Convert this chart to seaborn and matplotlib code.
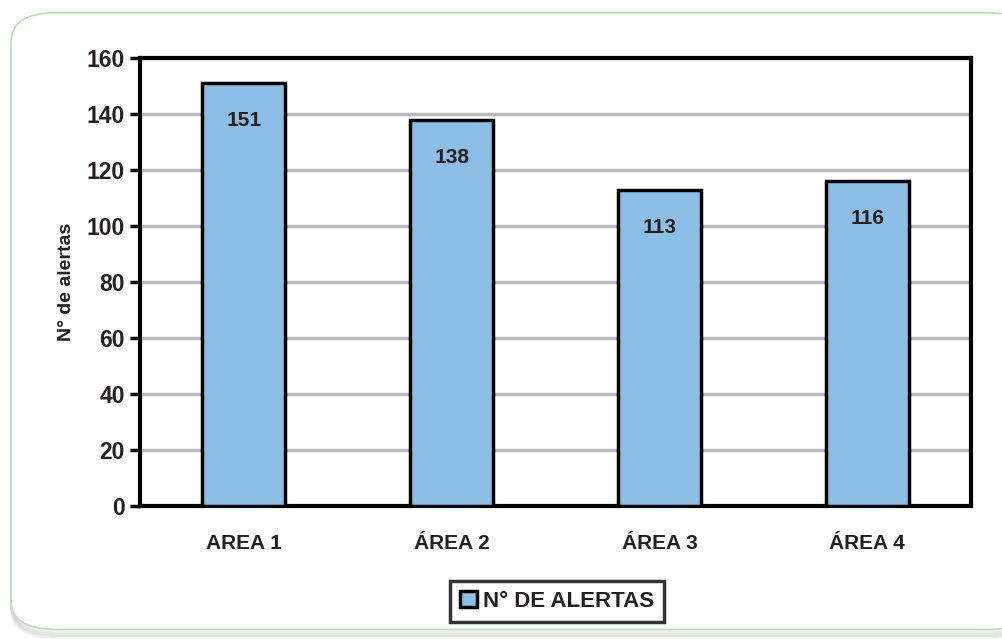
import matplotlib
matplotlib.use("Agg")
import matplotlib.pyplot as plt
from matplotlib.patches import FancyBboxPatch, Patch
import seaborn as sns
import pandas as pd

# Alert counts per area
areas = ["AREA 1", "ÁREA 2", "ÁREA 3", "ÁREA 4"]
alerts = [151, 138, 113, 116]
y_ticks = [0, 20, 40, 60, 80, 100, 120, 140, 160]
series_name = "N° DE ALERTAS"
y_title = "N° de alertas"

sns.set_theme(style="white")
plt.rcParams["font.family"] = ["Liberation Sans", "DejaVu Sans"]

TEXT = "#231f20"
BAR = "#8dbfe6"

fig = plt.figure(figsize=(10.03, 6.39), dpi=100)

# Rounded panel behind the chart, with a soft bottom shadow
for k, a in enumerate([0.05, 0.06, 0.07, 0.08]):
    fig.patches.append(FancyBboxPatch(
        (0.012, 0.012 - 0.003 * k), 1.02, 0.955,
        boxstyle="round,pad=0,rounding_size=0.045",
        transform=fig.transFigure, facecolor="none",
        edgecolor=(0.3, 0.3, 0.3, a), linewidth=3, zorder=0))
fig.patches.append(FancyBboxPatch(
    (0.011, 0.015), 1.02, 0.965,
    boxstyle="round,pad=0,rounding_size=0.045",
    transform=fig.transFigure, facecolor="white",
    edgecolor="#b9dfb4", linewidth=1.2, zorder=1))

ax = fig.add_axes([0.1396, 0.2081, 0.8285, 0.7011])
ax.set_zorder(2)

df = pd.DataFrame({"area": areas, "alerts": alerts})
sns.barplot(data=df, x="area", y="alerts", color=BAR, width=0.4,
            edgecolor="black", linewidth=2.5, saturation=1, ax=ax, zorder=3)

ax.set_ylim(0, 160)
ax.set_xlim(-0.5, len(areas) - 0.5)
ax.set_yticks(y_ticks)
ax.yaxis.grid(True, color="#b9b9bf", linewidth=2.5, zorder=0)
ax.set_axisbelow(True)

for s in ax.spines.values():
    s.set_visible(True)
    s.set_color("black")
    s.set_linewidth(3)

ax.tick_params(axis="y", which="both", left=True, length=7, width=2.5,
               color="black", direction="out", pad=4,
               labelsize=16.5, labelcolor=TEXT)
ax.tick_params(axis="x", bottom=False, pad=14, labelsize=15, labelcolor=TEXT)
for lab in ax.get_yticklabels() + ax.get_xticklabels():
    lab.set_fontweight("bold")

ax.set_xlabel("")
ax.set_ylabel(y_title, fontsize=14, fontweight="bold", color=TEXT, labelpad=8)

# Value labels just inside the top of each bar
for i, v in enumerate(alerts):
    ax.annotate(str(v), xy=(i, v), xytext=(0, -27), textcoords="offset points",
                ha="center", va="center", fontsize=15, fontweight="bold",
                color=TEXT, zorder=5)

handle = Patch(facecolor=BAR, edgecolor="black", linewidth=2.5)
leg = ax.legend([handle], [series_name], loc="center",
                bbox_to_anchor=(0.502, -0.212), frameon=True, fancybox=False,
                handlelength=0.75, handleheight=0.75, handletextpad=0.25,
                borderpad=0.45, prop={"size": 16, "weight": "bold"})
leg.get_frame().set_edgecolor("black")
leg.get_frame().set_linewidth(2.5)
for t in leg.get_texts():
    t.set_color(TEXT)

fig.savefig("out.png", dpi=100)
